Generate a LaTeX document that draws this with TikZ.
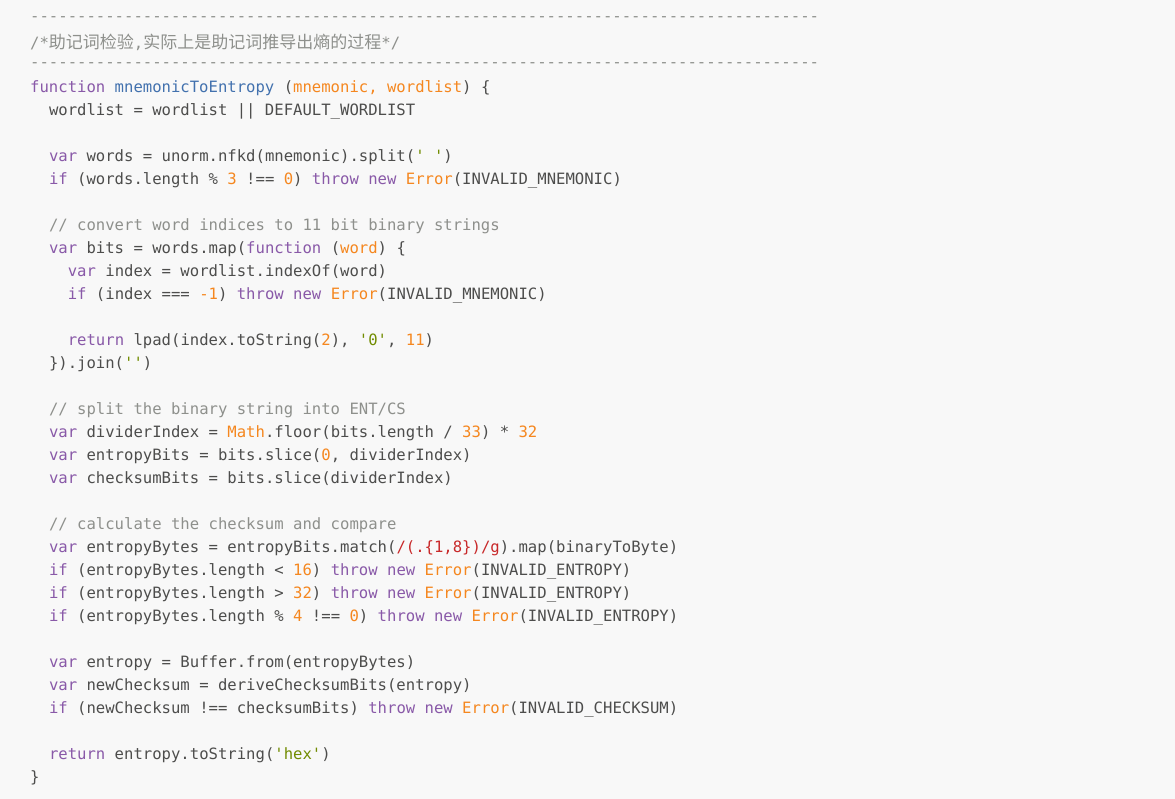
\documentclass[tikz,border=0pt]{standalone}
\usepackage{fontspec}
\setmonofont{DejaVu Sans Mono}
\newfontfamily\cjk{Noto Sans CJK SC}
\definecolor{codebg}{HTML}{F8F8F8}
\definecolor{codetext}{HTML}{4D4D4C}
\definecolor{codekw}{HTML}{8959A8}
\definecolor{codefn}{HTML}{4271AE}
\definecolor{codenum}{HTML}{F5871F}
\definecolor{codestr}{HTML}{718C00}
\definecolor{codecm}{HTML}{8E908C}
\definecolor{codere}{HTML}{C82829}
\newcommand\kw[1]{\textcolor{codekw}{#1}}
\newcommand\fn[1]{\textcolor{codefn}{#1}}
\newcommand\nm[1]{\textcolor{codenum}{#1}}
\newcommand\str[1]{\textcolor{codestr}{#1}}
\newcommand\cm[1]{\textcolor{codecm}{#1}}
\newcommand\rx[1]{\textcolor{codere}{#1}}
\newcommand\zh[1]{{\cjk\fontsize{17}{17}\selectfont #1}}
\tikzset{
  code/.style={anchor=west, inner sep=0pt, text=codetext,
    font=\ttfamily\fontsize{15.6}{18}\selectfont},
}
\begin{document}
\begin{tikzpicture}[x=1pt,y=-1pt]
\fill[codebg] (0,0) rectangle (1175,799);
\useasboundingbox (0,0) rectangle (1175,799);
%Kopfzeilen
\node[code] (l0) at (30,19) {\cm{------------------------------------------------------------------------------------}};
\node[code] (l1) at (30,42) {\cm{/*\zh{助记词检验},\zh{实际上是助记词推导出熵的过程}*/}};
\node[code] (l2) at (30,65) {\cm{------------------------------------------------------------------------------------}};
%Funktion
\node[code] (l3) at (30,88) {\kw{function} \fn{mnemonicToEntropy} (\nm{mnemonic, wordlist}) \{};
\node[code] (l4) at (48.8,111) {wordlist = wordlist || DEFAULT\_WORDLIST};
\node[code] (l6) at (48.8,157) {\kw{var} words = unorm.nfkd(mnemonic).split(\str{' '})};
\node[code] (l7) at (48.8,180) {\kw{if} (words.length \% \nm{3} !== \nm{0}) \kw{throw} \kw{new} \nm{Error}(INVALID\_MNEMONIC)};
\node[code] (l9) at (48.8,226) {\cm{// convert word indices to 11 bit binary strings}};
\node[code] (l10) at (48.8,249) {\kw{var} bits = words.map(\kw{function} (\nm{word}) \{};
\node[code] (l11) at (67.6,272) {\kw{var} index = wordlist.indexOf(word)};
\node[code] (l12) at (67.6,295) {\kw{if} (index === \nm{-1}) \kw{throw} \kw{new} \nm{Error}(INVALID\_MNEMONIC)};
\node[code] (l14) at (67.6,341) {\kw{return} lpad(index.toString(\nm{2}), \str{'0'}, \nm{11})};
\node[code] (l15) at (48.8,364) {\}).join(\str{''})};
\node[code] (l17) at (48.8,410) {\cm{// split the binary string into ENT/CS}};
\node[code] (l18) at (48.8,433) {\kw{var} dividerIndex = \nm{Math}.floor(bits.length / \nm{33}) * \nm{32}};
\node[code] (l19) at (48.8,456) {\kw{var} entropyBits = bits.slice(\nm{0}, dividerIndex)};
\node[code] (l20) at (48.8,479) {\kw{var} checksumBits = bits.slice(dividerIndex)};
\node[code] (l22) at (48.8,525) {\cm{// calculate the checksum and compare}};
\node[code] (l23) at (48.8,548) {\kw{var} entropyBytes = entropyBits.match(\rx{/(.\{1,8\})/g}).map(binaryToByte)};
\node[code] (l24) at (48.8,571) {\kw{if} (entropyBytes.length < \nm{16}) \kw{throw} \kw{new} \nm{Error}(INVALID\_ENTROPY)};
\node[code] (l25) at (48.8,594) {\kw{if} (entropyBytes.length > \nm{32}) \kw{throw} \kw{new} \nm{Error}(INVALID\_ENTROPY)};
\node[code] (l26) at (48.8,617) {\kw{if} (entropyBytes.length \% \nm{4} !== \nm{0}) \kw{throw} \kw{new} \nm{Error}(INVALID\_ENTROPY)};
\node[code] (l28) at (48.8,663) {\kw{var} entropy = Buffer.from(entropyBytes)};
\node[code] (l29) at (48.8,686) {\kw{var} newChecksum = deriveChecksumBits(entropy)};
\node[code] (l30) at (48.8,709) {\kw{if} (newChecksum !== checksumBits) \kw{throw} \kw{new} \nm{Error}(INVALID\_CHECKSUM)};
\node[code] (l32) at (48.8,755) {\kw{return} entropy.toString(\str{'hex'})};
\node[code] (l33) at (30,778) {\}};
\end{tikzpicture}
\end{document}
